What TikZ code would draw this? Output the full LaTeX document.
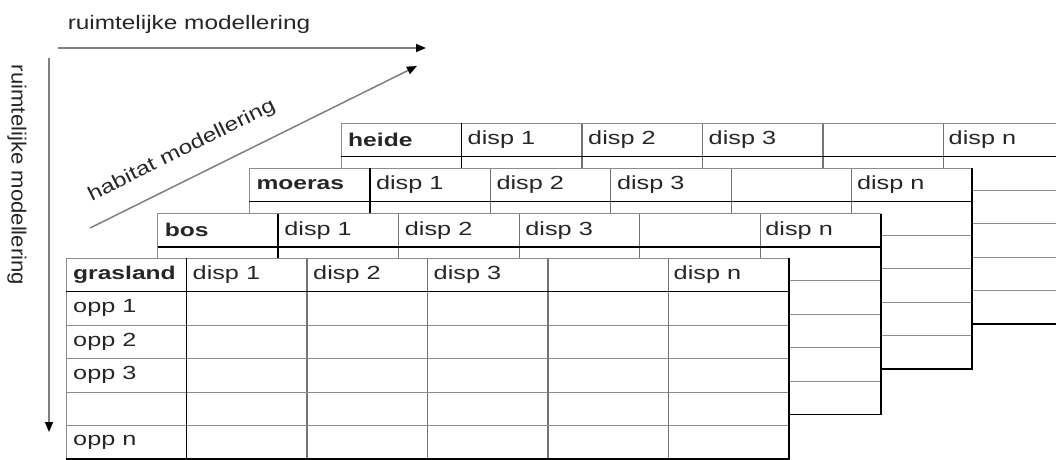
\documentclass[tikz,border=0pt]{standalone}
\usepackage{fontspec}
\setmainfont{Liberation Sans}
\newfontfamily\cellf[FakeStretch=1.33]{Liberation Sans}
\newfontfamily\titlef[FakeStretch=1.25]{Liberation Sans}
\newfontfamily\vertf[FakeStretch=1.08]{Liberation Sans}
\usetikzlibrary{arrows.meta}
\begin{document}
\begin{tikzpicture}[x=1pt,y=-1pt,
  celltext/.style={anchor=west,inner sep=0pt,font=\cellf\fontsize{19}{21}\selectfont,text=black!85},
  labtext/.style={anchor=west,inner sep=0pt,font=\cellf\bfseries\fontsize{18.5}{21}\selectfont,text=black!85},
  axistext/.style={inner sep=0pt,font=\titlef\fontsize{19.5}{22}\selectfont,text=black!85},
  vaxistext/.style={inner sep=0pt,font=\vertf\fontsize{20.5}{22}\selectfont,text=black!85},
  axisarrow/.style={draw=black!50,line width=1.5pt,-{Triangle[length=10pt,width=8pt,color=black]}},
  thinline/.style={draw=black!45,line width=0.8pt},
  colline/.style={draw=black!55,line width=1.1pt},
  edgeline/.style={draw=black!45,line width=1pt},
  boldline/.style={draw=black,line width=1.8pt},
]
\useasboundingbox (0,0) rectangle (1056,459);
\clip (0,0) rectangle (1056,459);
\fill[white] (0,0) rectangle (1056,459);
\def\W{120.5}
\def\R{33.5}
% axes
\node[axistext] (toplab) at (189,24) {ruimtelijke modellering};
\node[vaxistext,rotate=-90] (leftlab) at (17,175) {ruimtelijke modellering};
\node[axistext,rotate=26.3] (diaglab) at (182,151) {habitat modellering};
\coordinate (hs) at (58,48); \coordinate (he) at (426,48);
\coordinate (vs) at (49,58); \coordinate (ve) at (49,432);
\coordinate (ds) at (90,228); \coordinate (de) at (417,66);
\draw[axisarrow] (hs) -- (he);
\draw[axisarrow] (vs) -- (ve);
\draw[axisarrow] (ds) -- (de);
% tables, back to front
\foreach \X/\Y/\lab/\nm in {341/123/heide/h, 249.3/168/moeras/m, 157.7/213.5/bos/b, 66/258/grasland/g}{
  \fill[white] (\X,\Y) rectangle ({\X+6*\W},{\Y+6*\R});
  \foreach \k in {2,...,5}{
    \draw[thinline] (\X,{\Y+\k*\R}) -- ({\X+6*\W},{\Y+\k*\R});
    \draw[colline] ({\X+\k*\W},\Y) -- ({\X+\k*\W},{\Y+6*\R});
  }
  \draw[edgeline] (\X,{\Y+6*\R}) -- (\X,\Y) -- ({\X+6*\W},\Y);
  \draw[boldline] (\X,{\Y+\R}) -- ({\X+6*\W},{\Y+\R});
  \draw[boldline] ({\X+\W},\Y) -- ({\X+\W},{\Y+6*\R});
  \draw[boldline] ({\X+6*\W},\Y) -- ({\X+6*\W},{\Y+6*\R}) -- (\X,{\Y+6*\R});
  \node[labtext] (\nm-lab) at ({\X+7},{\Y+0.5*\R}) {\lab};
  \node[celltext] (\nm-d1) at ({\X+\W+6},{\Y+0.5*\R}) {disp 1};
  \node[celltext] (\nm-d2) at ({\X+2*\W+6},{\Y+0.5*\R}) {disp 2};
  \node[celltext] (\nm-d3) at ({\X+3*\W+6},{\Y+0.5*\R}) {disp 3};
  \node[celltext] (\nm-dn) at ({\X+5*\W+5},{\Y+0.5*\R}) {disp n};
}
\node[celltext] (g-o1) at (73,{258+1.5*\R}) {opp 1};
\node[celltext] (g-o2) at (73,{258+2.5*\R}) {opp 2};
\node[celltext] (g-o3) at (73,{258+3.5*\R}) {opp 3};
\node[celltext] (g-on) at (73,{258+5.5*\R}) {opp n};
\end{tikzpicture}
\end{document}
